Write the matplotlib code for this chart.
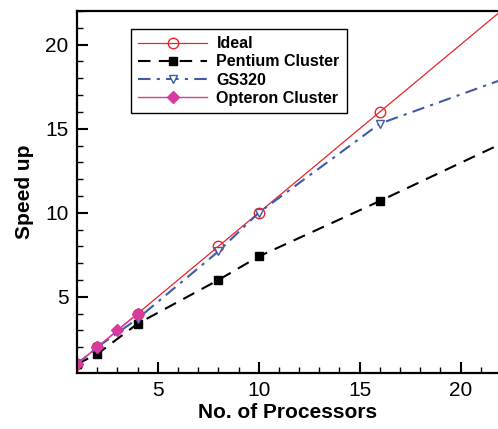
import matplotlib.pyplot as plt
from matplotlib.ticker import MultipleLocator

plt.rcParams['font.family'] = ['Liberation Sans', 'DejaVu Sans']

# speed-up measurements per processor count
ideal_x = [1, 2, 4, 8, 10, 16, 22]
ideal_y = [1, 2, 4, 8, 10, 16, 22]
pentium_x = [1, 2, 4, 8, 10, 16, 22]
pentium_y = [1, 1.6, 3.4, 6.0, 7.4, 10.7, 14.1]
gs320_x = [1, 2, 4, 8, 10, 16, 22]
gs320_y = [1, 2, 3.7, 7.7, 10.0, 15.3, 17.9]
opteron_x = [1, 2, 3, 4]
opteron_y = [1, 2, 3, 4]

red = '#e8252b'
blue = '#3f5aa8'
magenta = '#d63c9e'

fig = plt.figure(figsize=(4.98, 4.29), dpi=100)
ax = fig.add_axes([0.1546, 0.1317, 0.8454, 0.8427])

ax.plot(ideal_x, ideal_y, '-', color=red, lw=0.9, marker='o', ms=7.5,
        mfc='none', mec=red, mew=1.0, markevery=[0, 1, 2, 3, 4, 5], label='Ideal')
ax.plot(pentium_x, pentium_y, '--', color='black', lw=1.5, dashes=(6, 4),
        marker='s', ms=5.5, mfc='black', mec='black', markevery=[0, 1, 2, 3, 4, 5],
        label='Pentium Cluster')
ax.plot(gs320_x, gs320_y, '-.', color=blue, lw=1.5, dashes=(6, 3, 1.5, 3),
        marker='v', ms=6, mfc='white', mec=blue, mew=1.0,
        markevery=[0, 1, 2, 3, 4, 5], label='GS320')
ax.plot(opteron_x, opteron_y, '-', color=magenta, lw=1.0, marker='D', ms=6,
        mfc=magenta, mec=magenta, label='Opteron Cluster')

ax.set_xlim(1, 21.85)
ax.set_ylim(0.5, 22)
ax.xaxis.set_major_locator(MultipleLocator(5))
ax.xaxis.set_minor_locator(MultipleLocator(1))
ax.yaxis.set_major_locator(MultipleLocator(5))
ax.yaxis.set_minor_locator(MultipleLocator(1))
ax.set_xticks([5, 10, 15, 20])
ax.set_yticks([5, 10, 15, 20])

ax.tick_params(which='major', direction='in', length=8, width=1.5, labelsize=15,
               top=False, right=False, pad=6)
ax.tick_params(which='minor', direction='in', length=4, width=1.0,
               top=False, right=False)
for side in ['left', 'bottom', 'top']:
    ax.spines[side].set_linewidth(1.6)
ax.spines['right'].set_visible(False)

ax.set_xlabel('No. of Processors', fontsize=15, fontweight='bold', labelpad=2)
ax.set_ylabel('Speed up', fontsize=15, fontweight='bold', labelpad=8)

leg = ax.legend(loc='upper left', bbox_to_anchor=(131 / 498, 1 - 29 / 429),
                bbox_transform=fig.transFigure, fancybox=False, framealpha=1,
                edgecolor='black', prop={'weight': 'bold', 'size': 11.5},
                handlelength=4.3, borderpad=0.45, labelspacing=0.2,
                handletextpad=0.6, borderaxespad=0)
leg.get_frame().set_linewidth(1.0)

fig.savefig('out.png', dpi=100)
